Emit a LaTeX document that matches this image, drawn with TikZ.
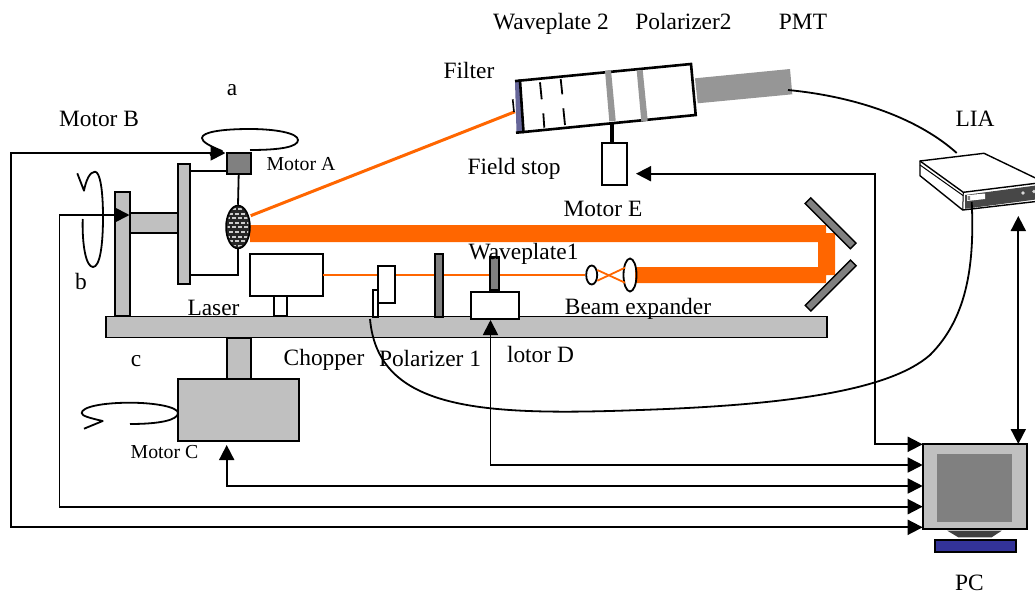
\documentclass[tikz,border=0pt]{standalone}
\usepackage{fontspec}
\setmainfont{Liberation Serif}
\usetikzlibrary{arrows.meta,shapes.geometric}
\definecolor{beam}{HTML}{FF6600}
\definecolor{lightg}{HTML}{C0C0C0}
\definecolor{midg}{HTML}{808080}
\definecolor{tubeg}{HTML}{969696}
\definecolor{filterc}{HTML}{666699}
\definecolor{basec}{HTML}{333399}
\newcommand{\bigfont}{\fontsize{23.4}{24}\selectfont}
\newcommand{\smallfont}{\fontsize{19.8}{21}\selectfont}
\tikzset{
  part/.style={draw=black, line width=1.8pt, inner sep=0, outer sep=0, rectangle},
  lab/.style={font=\bigfont, inner sep=0, anchor=base},
  smalllab/.style={font=\smallfont, inner sep=0, anchor=base},
  ctrl/.style={line width=1.8pt, -{Triangle[length=15pt,width=15pt]}},
  ctrlb/.style={line width=1.8pt, {Triangle[length=15pt,width=15pt]}-{Triangle[length=15pt,width=15pt]}},
  wire/.style={line width=1.8pt},
  turn/.style={line width=1.8pt, line join=round},
}
\begin{document}
\begin{tikzpicture}[x=1pt, y=-1pt]
  \useasboundingbox (0,0) rectangle (1035,594);

  % stage
  \node[part, fill=lightg, minimum width=720.5pt, minimum height=21pt] (table) at (466.5,327) {};
  \node[part, fill=lightg, minimum width=15pt, minimum height=124pt] (post) at (122.5,254) {};
  \node[part, fill=lightg, minimum width=48pt, minimum height=20pt] (arm) at (154,223) {};
  \node[part, fill=lightg, minimum width=12pt, minimum height=120pt] (plate) at (184,224) {};
  \node[part, fill=lightg, minimum width=24pt, minimum height=41pt] (pillar) at (238.7,358.5) {};
  \node[part, fill=lightg, minimum width=120.7pt, minimum height=62pt] (motorC) at (238.3,410) {};
  \node[part, fill=midg, minimum width=24pt, minimum height=21pt] (motorA) at (238.7,163.5) {};

  % beams
  \fill[beam] (250,225) -- (826,225) -- (826,233) -- (835,233) -- (835,275) -- (826,275)
    -- (826,283) -- (635,283) -- (635,267) -- (818,267) -- (818,242) -- (250,242) -- cycle;
  \node[part, line width=1.4pt, fill=midg, minimum width=64pt, minimum height=8pt, rotate=-45] (mirrorA) at (830.5,223.3) {};
  \node[part, line width=1.4pt, fill=midg, minimum width=64pt, minimum height=8pt, rotate=45] (mirrorB) at (830.7,285.5) {};

  % sample
  \node[draw=black, line width=1.5pt, fill=black!85, ellipse, inner sep=0, minimum width=24pt, minimum height=43pt] (sample) at (238,227) {};
  \begin{scope}
    \clip (238,227) ellipse (10.5pt and 20pt);
    \foreach \row in {0,...,8} {
      \foreach \col in {0,...,3} {
        \fill[white!80!black] ({226+\col*6+mod(\row,2)*3},{208+\row*4.6}) rectangle +(3.6,2);
      }
    }
  \end{scope}
  \draw[wire] (plate.east |- 0,171) -- (motorA.west |- 0,171);
  \draw[wire] (motorA.south) -- (sample.north);
  \draw[wire] (sample.south) -- (238,275) -- (plate.east |- 0,275);
  \coordinate (filterin) at (515,111.7);
  \draw[beam, line width=3pt] (250.7,215.7) -- (filterin);

  % laser line
  \node[part, fill=white, minimum width=72.7pt, minimum height=42pt] (laser) at (286.3,275) {};
  \node[part, fill=white, minimum width=12.7pt, minimum height=20pt] (laserfoot) at (280.3,306) {};
  \node[draw=black, line width=1.8pt, fill=white, ellipse, inner sep=0, minimum width=11pt, minimum height=19pt] (lensA) at (591.7,275) {};
  \node[draw=black, line width=1.8pt, ellipse, inner sep=0, minimum width=13pt, minimum height=33pt] (lensB) at (630,275) {};
  \draw[beam, line width=1.8pt] (laser.east) -- (lensA.west);
  \draw[beam, line width=1.8pt] (597.3,270) -- (625,282.7);
  \draw[beam, line width=1.8pt] (597.3,280.7) -- (625,267.7);
  \node[part, fill=white, minimum width=17pt, minimum height=37.6pt] (chopper) at (386.5,284.5) {};
  \node[part, fill=white, minimum width=5.6pt, minimum height=26.7pt] (chopperfoot) at (375.5,303.3) {};
  \node[part, fill=midg, minimum width=8pt, minimum height=62.7pt] (polarizerA) at (438.7,285.3) {};
  \node[part, fill=midg, minimum width=8.7pt, minimum height=33.3pt] (waveplateA) at (494.3,273.3) {};
  \node[part, fill=white, minimum width=48.3pt, minimum height=27.6pt] (motorD) at (495.2,305.5) {};

  % detector arm
  \fill[tubeg] (695,78.3) -- (790,69) -- (792.3,94.3) -- (697.7,103.3) -- cycle;
  \draw[line width=4pt] (612,122) -- (612,143);
  \node[part, fill=white, minimum width=24.4pt, minimum height=41.7pt] (motorE) at (614.5,164.2) {};
  \fill[filterc] (515,82) -- (520,82) -- (523.5,132) -- (516.5,132) -- cycle;
  \draw[line width=2.6pt, fill=white] (520,80.6) -- (691,64) -- (695.7,115) -- (523.5,132) -- cycle;
  \draw[line width=2.6pt] (515,81.1) -- (520,80.6);
  \draw[line width=2.6pt] (516,132.7) -- (523.5,132);
  \fill[tubeg] (605,70.7) -- (611,70) -- (615.7,120.7) -- (609.3,121.3) -- cycle;
  \fill[tubeg] (636.7,70.7) -- (642.7,70) -- (647.7,120.7) -- (641.3,121.3) -- cycle;
  \draw[line width=1.6pt] (512.7,99.3) -- (514,112);
  \draw[wire] (540,82.3) -- (541.7,99.3);
  \draw[wire] (543.3,113.3) -- (544.3,127.7);
  \draw[wire] (560.7,79) -- (562.3,94.3);
  \draw[wire] (563.3,108.3) -- (565,125);

  % lia
  \coordinate (liaIn) at (956.7,153);
  \coordinate (liaOut) at (971.7,202);
  \draw[line width=1.4pt, fill=white] (920,161) -- (984,153.3) -- (1036,178.3) -- (1036,201.5)
    -- (962.7,210) -- (920,175.7) -- cycle;
  \draw[line width=1.4pt] (920,161) -- (963.3,192.3) -- (1036,183.3);
  \draw[line width=1pt] (920,165) -- (963.3,195.7);
  \draw[line width=1pt] (963.3,192.3) -- (962.7,210);
  \fill[black!72] (965,195) -- (1036,185.5) -- (1036,199.5) -- (965,208.8) -- cycle;
  \fill[white] (967,195.2) -- (985,193.5) -- (985,199) -- (967,201) -- cycle;
  \fill[black!50] (967.5,196.2) -- (970,196) -- (970,200) -- (967.5,200.3) -- cycle;
  \fill[black!15] (1023,193) circle (1.8pt);
  \fill[black!15] (1034,191.5) circle (1.8pt);

  % pc
  \node[part, fill=lightg, minimum width=104pt, minimum height=85pt] (pc) at (974.7,486.8) {};
  \node[inner sep=0, outer sep=0, fill=midg, minimum width=74.4pt, minimum height=68.3pt] (screen) at (974.5,488.2) {};
  \fill[black!75] (947.3,530.7) -- (958.3,537.3) -- (991.7,537.3) -- (1001.7,530.7) -- cycle;
  \node[part, fill=basec, minimum width=80.7pt, minimum height=11.7pt] (pcbase) at (975.7,545.8) {};

  % control lines
  \coordinate (pcA) at (922.7,444.3);
  \coordinate (pcB) at (922.7,465);
  \coordinate (pcC) at (922.7,486);
  \coordinate (pcD) at (922.7,506.7);
  \coordinate (pcE) at (922.7,527.3);
  \coordinate (motorEin) at (636,173.7);
  \coordinate (motorBin) at (129.5,215);
  \coordinate (motorAin) at (225.5,153);
  \coordinate (liaArrow) at (1018.3,216);
  \coordinate (pcTop) at (1018.3,444);
  \draw[ctrlb] (motorEin) -- (875,173.7) -- (875,444.3) -- (pcA);
  \draw[ctrlb] (490.5,320) -- (490.5,465) -- (pcB);
  \draw[ctrlb] (226.7,445) -- (226.7,486) -- (pcC);
  \draw[ctrlb] (motorBin) -- (59.5,215) -- (59.5,506.7) -- (pcD);
  \draw[ctrlb] (motorAin) -- (10.7,153) -- (10.7,527.3) -- (pcE);
  \draw[ctrlb] (liaArrow) -- (pcTop);

  % signal cables
  \draw[wire] (788,90) .. controls (860,97) and (920,120) .. (liaIn);
  \draw[wire] (liaOut) .. controls (975,270) and (965,320) .. (930,355)
    .. controls (890,390) and (790,405) .. (640,410)
    .. controls (480,416) and (378,410) .. (370,319);

  % rotations
  \draw[turn] (250,150) .. controls (280,150) and (298,147) .. (298,140)
    .. controls (298,133) and (275,129) .. (250,129)
    .. controls (222,129) and (202,132) .. (202,138)
    .. controls (202,142) and (210,146) .. (222,151) -- (210,155);
  \draw[turn] (82.7,219) .. controls (82,245) and (86,267) .. (93,267)
    .. controls (100,267) and (103,245) .. (103,217)
    .. controls (103,190) and (100,171.7) .. (95,171.7)
    .. controls (90,171.7) and (86,180) .. (84,190.7) -- (77.3,173.3);
  \draw[turn] (130,424) .. controls (160,424) and (178,420) .. (178,413)
    .. controls (178,407) and (155,402.7) .. (130,402.7)
    .. controls (102,402.7) and (81.7,407) .. (81.7,413)
    .. controls (81.7,416) and (90,418) .. (102.7,421) -- (84,428.7);

  % labels
  \node[lab] (lWaveB) at (551,30) {Waveplate 2};
  \node[lab] (lPolB) at (683.5,30) {Polarizer2};
  \node[lab] (lPmt) at (803,30) {PMT};
  \node[lab] (lFilter) at (469,78) {Filter};
  \node[lab] (la) at (232,95) {a};
  \node[lab] (lMotorB) at (99,126) {Motor B};
  \node[smalllab] (lMotorA) at (301,170) {Motor A};
  \node[lab] (lLia) at (975,126) {LIA};
  \node[lab] (lStop) at (514,174) {Field stop};
  \node[lab] (lMotorE) at (603,216) {Motor E};
  \node[lab] (lb) at (81,289) {b};
  \node[lab] (lWaveA) at (523.5,259) {Waveplate1};
  \node[lab] (lLaser) at (213.5,315) {Laser};
  \node[lab] (lExp) at (638,314) {Beam expander};
  \node[lab] (lc) at (136,366) {c};
  \node[lab] (lChop) at (324,365) {Chopper};
  \node[lab] (lPolA) at (430,366) {Polarizer 1};
  \node[lab] (lMotorD) at (540.5,362) {lotor D};
  \node[smalllab] (lMotorC) at (164.5,458) {Motor C};
  \node[lab] (lPc) at (969.5,590) {PC};
\end{tikzpicture}
\end{document}
